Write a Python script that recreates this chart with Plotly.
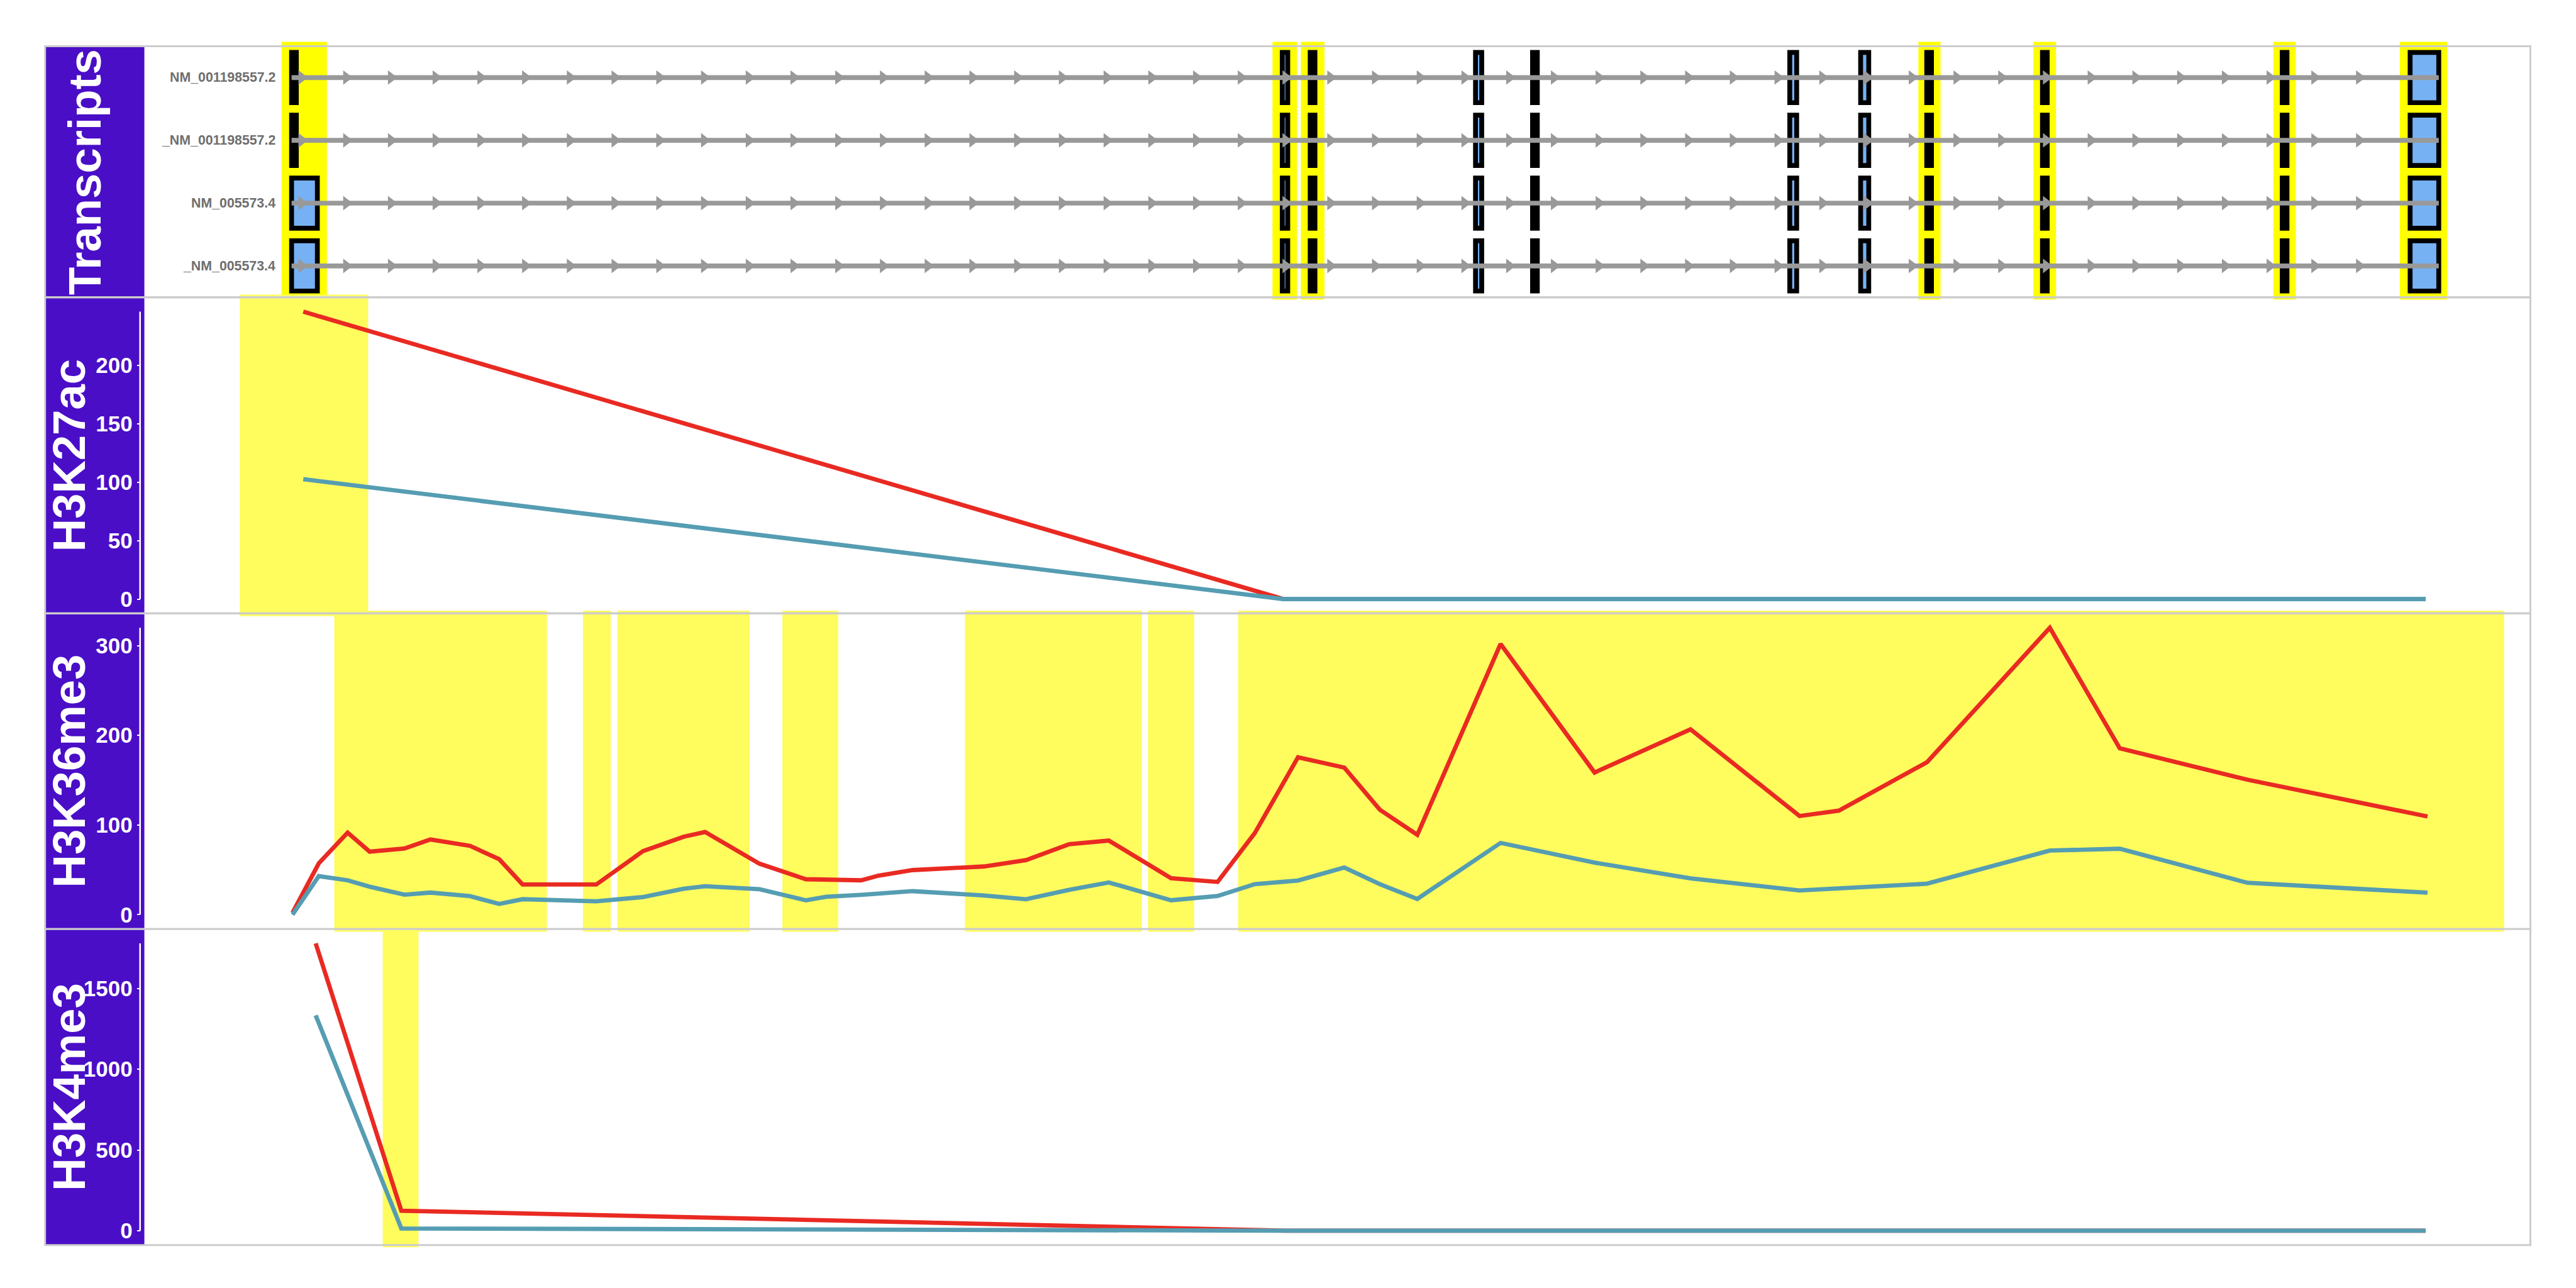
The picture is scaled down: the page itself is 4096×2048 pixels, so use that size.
import numpy as np
import plotly.graph_objects as go

# ---------------- data ----------------
# track position units (0-100 across the plotted window)
transcripts = ["NM_001198557.2", "_NM_001198557.2", "NM_005573.4", "_NM_005573.4"]

# exons of NM_001198557.2 (rows 1-2) and NM_005573.4 (rows 3-4)
exon_start_557 = [6.17, 47.69, 48.86, 55.79, 58.18, 68.96, 71.93, 74.70, 79.55, 89.60, 94.96]
exon_end_557   = [6.37, 47.92, 49.06, 56.05, 58.38, 69.25, 72.27, 74.90, 79.75, 89.80, 96.16]
exon_start_573 = [6.17, 47.69, 48.86, 55.79, 58.18, 68.96, 71.93, 74.70, 79.55, 89.60, 94.96]
exon_end_573   = [7.25, 47.92, 49.06, 56.05, 58.38, 69.25, 72.27, 74.90, 79.75, 89.80, 96.16]

# strand arrows along introns
arrow_first = 6.59
arrow_step = 1.8747
arrow_count = 47

# highlighted regions
hl_transcripts = [(5.75, 7.65), (47.28, 48.31), (48.47, 49.46), (74.35, 75.28),
                  (79.17, 80.12), (89.23, 90.17), (94.53, 96.51)]
hl_h3k27ac = [(4.00, 9.38)]
hl_h3k36me3 = [(7.96, 16.87), (18.38, 19.55), (19.82, 25.37), (26.74, 29.08),
               (34.39, 41.81), (42.06, 44.00), (45.84, 98.90)]
hl_h3k4me3 = [(9.99, 11.49)]

# signal tracks
h3k27ac_pos = [6.66, 47.73, 95.61]
h3k27ac_red = [245.8, 0.0, 0.0]
h3k27ac_blue = [102.5, 0.0, 0.0]

h3k36me3_pos = [6.21, 7.31, 8.52, 9.44, 10.90, 11.99, 13.65, 14.87, 15.85, 18.94,
                20.90, 22.60, 23.50, 25.78, 27.72, 28.58, 30.04, 30.77, 32.20, 35.18,
                36.95, 38.76, 40.42, 43.03, 44.98, 46.54, 48.35, 50.29, 51.78, 53.35,
                56.84, 60.78, 64.80, 69.37, 71.02, 74.71, 79.86, 82.79, 88.14, 95.69]
h3k36me3_red = [2, 57.2, 91.5, 70.3, 73.8, 83.8, 76.7, 61.9, 33.6, 33.6,
                70.9, 86.9, 92.2, 56.8, 39.5, 39.2, 38.3, 43.5, 49.7, 53.7,
                60.8, 78.5, 82.6, 40.6, 36.5, 91.0, 175.5, 164.0, 117.0, 89.0,
                301.9, 158.5, 206.7, 110.0, 116.0, 170.0, 320.0, 185.5, 150.5, 109.5]
h3k36me3_blue = [0, 43.0, 38.3, 31.2, 22.2, 24.6, 20.6, 11.9, 17.2, 14.9,
                 19.6, 28.9, 31.7, 28.4, 16.0, 19.9, 22.0, 23.5, 26.2, 21.4,
                 17.2, 27.7, 35.9, 16.0, 20.8, 34.0, 38.0, 52.5, 34.0, 17.5,
                 80.0, 58.0, 40.5, 27.0, 29.5, 34.5, 71.5, 73.5, 35.5, 24.5]

h3k4me3_pos = [7.18, 10.77, 47.84, 95.61]
h3k4me3_red = [1780, 124, 0, 0]
h3k4me3_blue = [1334, 14, 0, 0]

tracks = ["H3K27ac", "H3K36me3", "H3K4me3"]
ticks = {"H3K27ac": [0, 50, 100, 150, 200],
         "H3K36me3": [0, 100, 200, 300],
         "H3K4me3": [0, 500, 1000, 1500]}

# ---------------- style ----------------
S = 4096 / 4800
FONT = "Liberation Sans, Arial, Helvetica, sans-serif"
PURPLE = "#4A0EC7"
RED = "#E92A22"
BLUE = "#559DB2"
EXON_BLUE = "#76B1F4"
GREY_LINE = "#999999"
BORDER = "#CCCCCC"
HL_T = "#FFFF00"
HL_S = "#FFFC5E"

W_REF, H_REF = 4800, 2400
X_LEFT, X_PLOT, X_RIGHT = 84, 269, 4715
AX_X = 261
panel_px = [(86, 554), (554, 1143), (1143, 1731), (1731, 2320)]
doms = [[1 - b / H_REF, 1 - t / H_REF] for t, b in panel_px]
xdom = [X_PLOT / W_REF, X_RIGHT / W_REF]

fig = go.Figure()

# transcript lines + arrows + exons
exon_sets = [(exon_start_557, exon_end_557), (exon_start_557, exon_end_557),
             (exon_start_573, exon_end_573), (exon_start_573, exon_end_573)]
arrow_x = arrow_first + arrow_step * np.arange(arrow_count)
for i, (st, en) in enumerate(exon_sets):
    row = i + 1
    fig.add_trace(go.Scatter(x=[st[0], en[-1]], y=[row, row], mode="lines",
                             line=dict(color=GREY_LINE, width=9 * S),
                             xaxis="x", yaxis="y", showlegend=False, hoverinfo="skip"))
    fig.add_trace(go.Scatter(x=arrow_x, y=[row] * len(arrow_x), mode="markers",
                             marker=dict(symbol="triangle-right", size=20, color=GREY_LINE),
                             xaxis="x", yaxis="y", showlegend=False, hoverinfo="skip"))
for i, (st, en) in enumerate(exon_sets):
    row = i + 1
    fig.add_trace(go.Bar(orientation="h", base=st, x=[e - s for s, e in zip(st, en)],
                         y=[row] * len(st), width=0.8,
                         marker=dict(color=EXON_BLUE, line=dict(color="black", width=9 * S)),
                         xaxis="x", yaxis="y", showlegend=False, hoverinfo="skip"))

signals = {"H3K27ac": (h3k27ac_pos, h3k27ac_red, h3k27ac_blue),
           "H3K36me3": (h3k36me3_pos, h3k36me3_red, h3k36me3_blue),
           "H3K4me3": (h3k4me3_pos, h3k4me3_red, h3k4me3_blue)}

shapes = []
annotations = []

layout = dict(width=4096, height=2048, margin=dict(l=0, r=0, t=0, b=0),
              paper_bgcolor="white", plot_bgcolor="rgba(0,0,0,0)",
              template="none", barmode="overlay", showlegend=False, autosize=False)

layout["xaxis"] = dict(domain=xdom, range=[0, 100], visible=False, anchor="y")
layout["yaxis"] = dict(domain=doms[0], range=[4.5, 0.5], visible=False, anchor="x")

for k, name in enumerate(tracks):
    n = k + 2
    pos, red, blue = signals[name]
    fig.add_trace(go.Scatter(x=pos, y=red, mode="lines", line=dict(color=RED, width=8 * S),
                             xaxis=f"x{n}", yaxis=f"y{n}", showlegend=False))
    fig.add_trace(go.Scatter(x=pos, y=blue, mode="lines", line=dict(color=BLUE, width=8 * S),
                             xaxis=f"x{n}", yaxis=f"y{n}", showlegend=False))
    lo = min(min(red), min(blue))
    hi = max(max(red), max(blue))
    span = hi - lo
    layout[f"xaxis{n}"] = dict(domain=xdom, range=[0, 100], visible=False,
                               anchor=f"y{n}", matches="x")
    layout[f"yaxis{n}"] = dict(domain=doms[k + 1], range=[lo - 0.05 * span, hi + 0.05 * span],
                               anchor="free", position=AX_X / W_REF, side="left",
                               tickmode="array", tickvals=ticks[name],
                               ticks="outside", ticklen=6 * S, tickwidth=2.5 * S,
                               tickcolor="white", showline=False, showgrid=False,
                               zeroline=False,
                               tickfont=dict(family=FONT, size=41 * S, color="white",
                                             weight="bold"))
    shapes.append(dict(type="line", xref="paper", yref=f"y{n}",
                       x0=AX_X / W_REF, x1=AX_X / W_REF, y0=lo, y1=hi,
                       line=dict(color="white", width=3 * S), layer="above"))

# purple label boxes
for (t, b) in panel_px:
    shapes.append(dict(type="rect", xref="paper", yref="paper",
                       x0=X_LEFT / W_REF, x1=X_PLOT / W_REF,
                       y0=1 - b / H_REF, y1=1 - t / H_REF,
                       fillcolor=PURPLE, line=dict(width=0), layer="below"))

# highlights
def add_hl(regions, xref, yref, color, over_b, over_t, h):
    for a, b in regions:
        shapes.append(dict(type="rect", xref=xref, yref=yref + " domain",
                           x0=a, x1=b, y0=-over_b / h, y1=1 + over_t / h,
                           fillcolor=color, line=dict(width=0), layer="below"))

add_hl(hl_transcripts, "x", "y", HL_T, 4, 8, 468)
add_hl(hl_h3k27ac, "x2", "y2", HL_S, 5, 5, 589)
add_hl(hl_h3k36me3, "x3", "y3", HL_S, 5, 5, 588)
add_hl(hl_h3k4me3, "x4", "y4", HL_S, 4, -3, 589)

# panel borders
for (t, b) in panel_px:
    shapes.append(dict(type="rect", xref="paper", yref="paper",
                       x0=X_LEFT / W_REF, x1=X_RIGHT / W_REF,
                       y0=1 - b / H_REF, y1=1 - t / H_REF,
                       fillcolor="rgba(0,0,0,0)", line=dict(color=BORDER, width=3.5 * S),
                       layer="above"))

# panel titles
titles = ["Transcripts"] + tracks
title_x = [157, 128, 128, 128]
for name, tx, (t, b) in zip(titles, title_x, panel_px):
    annotations.append(dict(text=name, xref="paper", yref="paper",
                            x=tx / W_REF, y=1 - (t + b) / 2 / H_REF,
                            xanchor="center", yanchor="middle", textangle=-90,
                            showarrow=False,
                            font=dict(family=FONT, size=85 * S, color="white", weight="bold")))

# transcript names
for i, name in enumerate(transcripts):
    st = exon_sets[i][0][0]
    annotations.append(dict(text=name, xref="x", yref="y", x=st, y=i + 1,
                            xanchor="right", yanchor="middle", xshift=-24,
                            showarrow=False,
                            font=dict(family=FONT, size=25 * S, color="#6F6F6F",
                                      weight="bold")))

layout["shapes"] = shapes
layout["annotations"] = annotations
fig.update_layout(**layout)

fig.write_html("out.html")
